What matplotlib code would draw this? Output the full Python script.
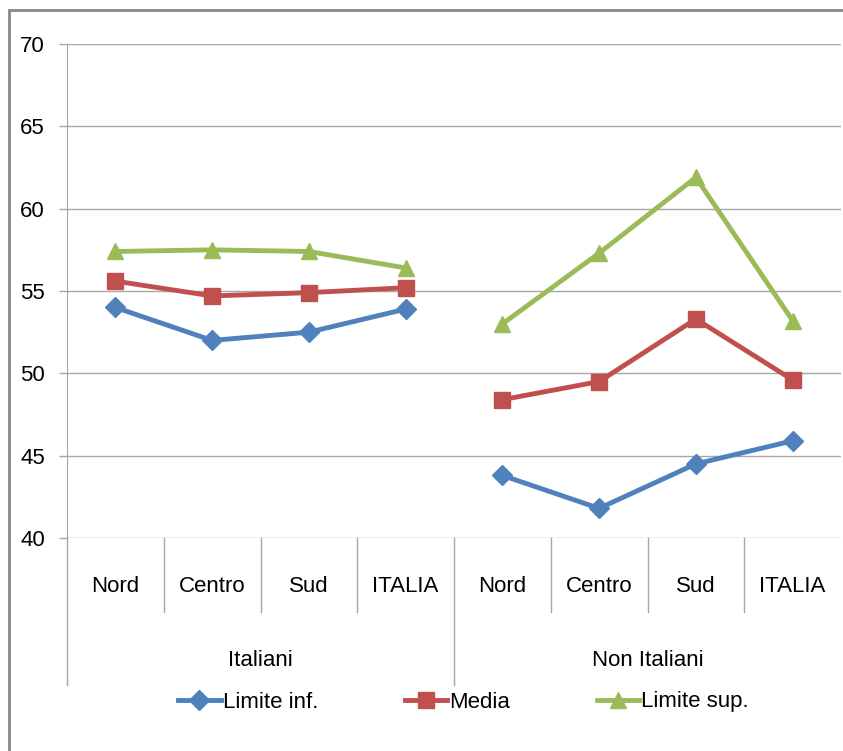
import matplotlib
matplotlib.use('Agg')
import matplotlib.pyplot as plt
from matplotlib.patches import Rectangle

plt.rcParams['font.family'] = ['Liberation Sans Narrow', 'Liberation Sans', 'DejaVu Sans']

# data
regions = ['Nord', 'Centro', 'Sud', 'ITALIA']
groups = ['Italiani', 'Non Italiani']
series_names = ['Limite inf.', 'Media', 'Limite sup.']

lim_inf = [[54.0, 52.0, 52.5, 53.9], [43.8, 41.8, 44.5, 45.9]]
media = [[55.6, 54.7, 54.9, 55.2], [48.4, 49.5, 53.3, 49.6]]
lim_sup = [[57.4, 57.5, 57.4, 56.4], [53.0, 57.3, 61.9, 53.2]]

yticks = [40, 45, 50, 55, 60, 65, 70]

colors = ['#4F81BD', '#C0504D', '#9BBB59']
markers = ['D', 's', '^']
msizes = [10, 11, 11]

GRID = '#A6A6A6'

fig = plt.figure(figsize=(8.43, 7.51), dpi=100)
ax = fig.add_axes([67 / 843, 1 - 538 / 751, 774 / 843, 494 / 751])

n = len(regions)
for s, (vals, name) in enumerate(zip([lim_inf, media, lim_sup], series_names)):
    for g, gv in enumerate(vals):
        xs = [g * n + i for i in range(n)]
        ax.plot(xs, gv, color=colors[s], lw=3.5, marker=markers[s], ms=msizes[s],
                label=name if g == 0 else None, zorder=3)

ax.set_xlim(-0.5, len(groups) * n - 0.5)
ax.set_ylim(40, 70)
ax.set_yticks(yticks)
ax.set_yticklabels([str(v) for v in yticks], fontsize=16, color='#000000')
ax.tick_params(axis='y', length=6, width=1, color=GRID, pad=10)
ax.set_xticks([])
ax.grid(axis='y', color=GRID, lw=1)
ax.set_axisbelow(True)
for side in ['top', 'right', 'bottom']:
    ax.spines[side].set_visible(False)
ax.spines['left'].set_color(GRID)

# multi-level category axis
tr = ax.get_xaxis_transform()
y_cat = -49 / 494
y_sep = -74 / 494
y_grp = -122 / 494
y_long = -147 / 494
for g, gname in enumerate(groups):
    for i, r in enumerate(regions):
        ax.text(g * n + i, y_cat, r, transform=tr, ha='center', va='center', fontsize=16)
    ax.text(g * n + (n - 1) / 2, y_grp, gname, transform=tr, ha='center', va='center', fontsize=16)
for k in range(1, len(groups) * n):
    bottom = y_long if k % n == 0 else y_sep
    ax.plot([k - 0.5, k - 0.5], [0, bottom], transform=tr, color=GRID, lw=1, clip_on=False)
ax.plot([-0.5, -0.5], [0, y_long], transform=tr, color=GRID, lw=1, clip_on=False)

fig.legend(loc='center', bbox_to_anchor=(0.55, 1 - 702 / 751), ncol=3, frameon=False,
           fontsize=16, handlelength=1.9, handletextpad=0.1, columnspacing=3.9)

# outer chart border
fig.patches.append(Rectangle((9 / 843, -0.05), 1.2, 1 - 10 / 751 + 0.05, transform=fig.transFigure,
                             fill=False, edgecolor='#878787', lw=2))

fig.savefig('out.png', dpi=100)
